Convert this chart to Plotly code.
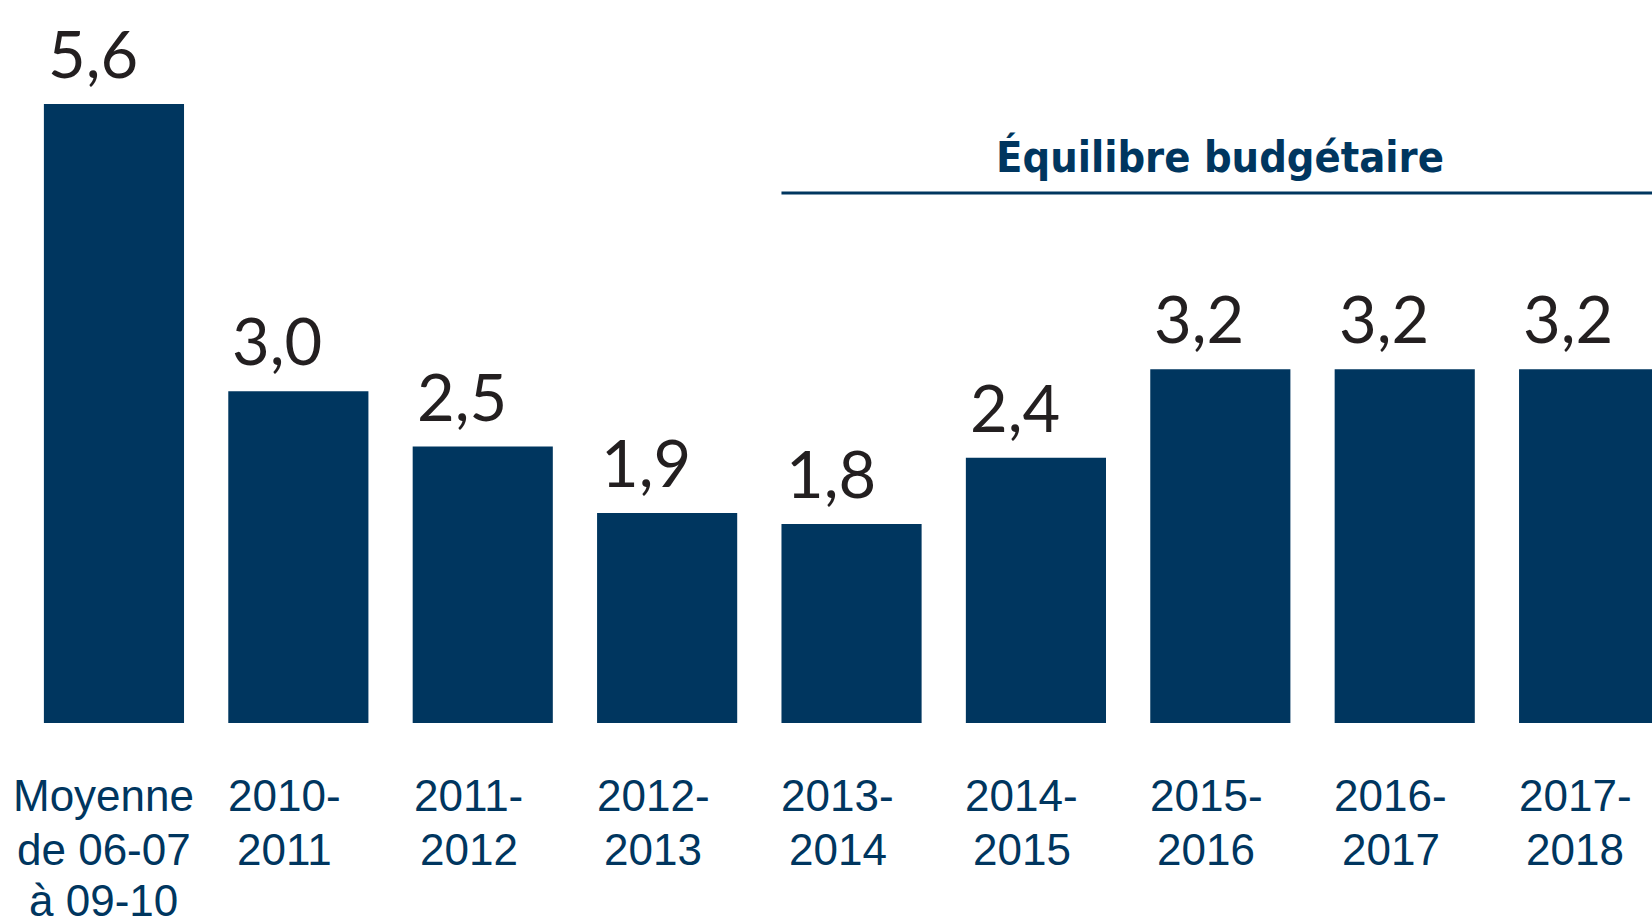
import plotly.graph_objects as go

# ---- data ----
categories = ["Moyenne de 06-07 à 09-10", "2010-2011", "2011-2012", "2012-2013",
              "2013-2014", "2014-2015", "2015-2016", "2016-2017", "2017-2018"]
tick_lines = [["Moyenne", "de 06-07", "à 09-10"], ["2010-", "2011"], ["2011-", "2012"],
              ["2012-", "2013"], ["2013-", "2014"], ["2014-", "2015"], ["2015-", "2016"],
              ["2016-", "2017"], ["2017-", "2018"]]
values = [5.6, 3.0, 2.5, 1.9, 1.8, 2.4, 3.2, 3.2, 3.2]
balance_label = "Équilibre budgétaire"
balance_start_index = 4      # bracket starts at 2013-2014
balance_center_index = 6     # label centered over 2015-2016

BLUE = "#00365F"
DARK = "#231F20"

fig = go.Figure()
fig.add_trace(go.Bar(
    x=categories, y=values,
    marker=dict(color=BLUE, line=dict(width=0)),
    width=0.76,
    hoverinfo="skip",
))

annotations = []
# value labels
for c, v in zip(categories, values):
    annotations.append(dict(
        x=c, y=v, xref="x", yref="y",
        text=f"{v:.1f}".replace(".", ","),
        showarrow=False, xanchor="center", yanchor="bottom",
        xshift=-21, yshift=10,
        font=dict(family="Lato, Noto Sans, sans-serif", size=65, color=DARK),
    ))
# category labels (one annotation per line for exact line spacing)
line_offsets = [-72, -126, -177]
for i, (c, lines) in enumerate(zip(categories, tick_lines)):
    for k, ln in enumerate(lines):
        annotations.append(dict(
            x=c, y=0, xref="x", yref="paper",
            text=ln, showarrow=False, xanchor="center", yanchor="middle",
            xshift=-10 if i == 0 else -14, yshift=line_offsets[k],
            font=dict(family="Liberation Sans, Arial, sans-serif", size=44, color=BLUE),
        ))
# balance label
annotations.append(dict(
    x=categories[balance_center_index], y=0.733, xref="x", yref="paper",
    text=f"<b>{balance_label}</b>", showarrow=False,
    xanchor="center", yanchor="bottom", yshift=9,
    font=dict(family="Liberation Sans Narrow, DejaVu Sans Condensed, sans-serif",
              size=43, color=BLUE),
))

fig.add_shape(type="line", xref="x", yref="paper",
              x0=balance_start_index - 0.38, x1=len(categories) + 1,
              y0=0.733, y1=0.733,
              line=dict(color=BLUE, width=3))

fig.update_layout(
    width=1652, height=919,
    margin=dict(l=0, r=0, t=0, b=196),
    paper_bgcolor="white", plot_bgcolor="white",
    showlegend=False,
    annotations=annotations,
    xaxis=dict(range=[-0.618, 8.341], showticklabels=False, showgrid=False,
               zeroline=False, showline=False, ticks=""),
    yaxis=dict(range=[0, 6.54], visible=False, showgrid=False, zeroline=False),
)

fig.write_html(
    "out.html",
    config={"displayModeBar": False},
    post_script="document.body.style.margin='0';document.body.style.overflow='hidden';",
)
